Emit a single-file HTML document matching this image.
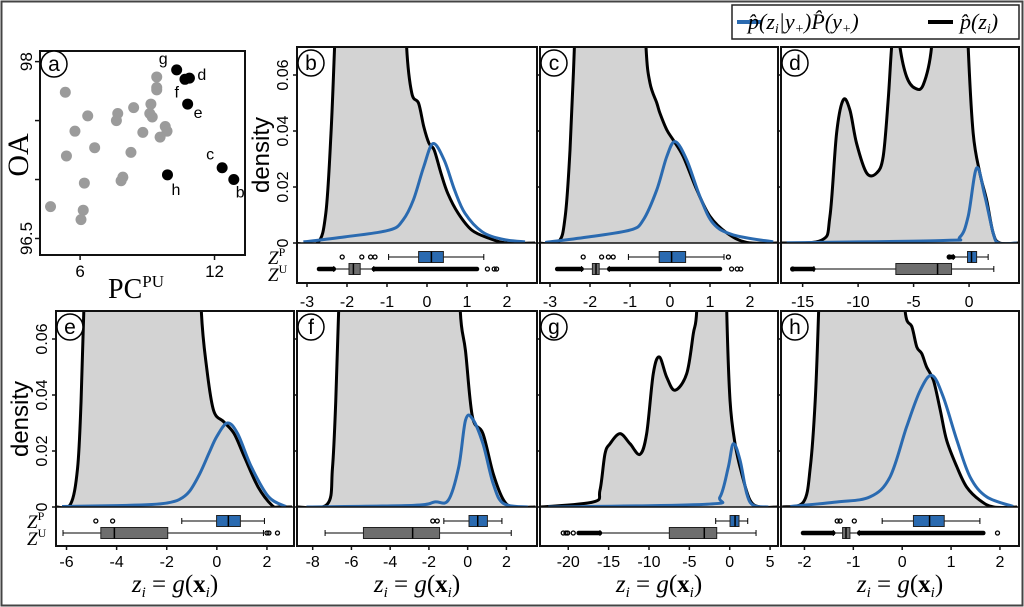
<!DOCTYPE html>
<html><head><meta charset="utf-8"><style>
html,body{margin:0;padding:0;background:#fff}
svg{display:block;font-family:"Liberation Sans",sans-serif}
</style></head><body>
<svg id="fig" width="1024" height="607" viewBox="0 0 1024 607" xmlns="http://www.w3.org/2000/svg">
<rect x="1.5" y="1.5" width="1021" height="604" fill="#fff" stroke="#444" stroke-width="2"/>
<g id="legend">
<rect x="732" y="5" width="287" height="34" fill="#fff" stroke="#222" stroke-width="1.5"/>
<line x1="737" y1="22" x2="762" y2="22" stroke="#2a6ab0" stroke-width="4"/>
<text x="748" y="29" font-family="'Liberation Serif',serif" font-style="italic" font-size="22">p̂(z<tspan font-size="14" dy="4">i</tspan><tspan dy="-4">|y</tspan><tspan font-size="14" dy="4">+</tspan><tspan dy="-4">)P̂(y</tspan><tspan font-size="14" dy="4">+</tspan><tspan dy="-4">)</tspan></text>
<line x1="928" y1="22" x2="953" y2="22" stroke="#000" stroke-width="4"/>
<text x="960" y="29" font-family="'Liberation Serif',serif" font-style="italic" font-size="22">p̂(z<tspan font-size="14" dy="4">i</tspan><tspan dy="-4">)</tspan></text>
</g>
</svg>
<script>
// ---------- scatter panel (a) data ----------
const grayX = [5.34,9.42,9.42,9.42,8.39,9.16,9.11,9.22,7.68,7.62,6.34,5.77,9.8,9.88,9.57,8.8,6.65,5.39,8.27,7.91,7.83,6.19,4.68,6.14,6.04];
const grayY = [97.74,97.87,97.78,97.76,97.61,97.64,97.56,97.53,97.56,97.5,97.54,97.41,97.45,97.41,97.36,97.4,97.27,97.2,97.23,97.02,96.99,96.97,96.77,96.74,96.66];
const blackX = [10.31,10.68,10.88,10.8,12.34,12.86,9.9];
const blackY = [97.93,97.85,97.86,97.64,97.1,97.0,97.04];
const blackLabels = ['g','f','d','e','c','b','h'];
const scatterXTicks = [6,12];
const scatterYTicks = [96.5,97,97.5,98];
const scatterYTickLabels = ['96.5','','','98'];

// ---------- density panels data ----------
const densTicks = [0,0.02,0.04,0.06];
const densTickLabels = ['0','0.02','0.04','0.06'];

const bBlack = [[-3.3,0],[-2.74,0],[-2.53,0.0106],[-2.40,0.0392],[-2.31,0.0701],[-2.2,0.11],[-1.4,0.13],[-0.6,0.11],[-0.51,0.0701],[-0.38,0.0535],[-0.21,0.0499],[-0.08,0.0415],[0.05,0.0356],[0.18,0.0332],[0.35,0.0249],[0.52,0.0177],[0.78,0.0106],[1.12,0.0046],[1.55,0.0017],[1.98,0],[2.7,0]];
const bBlue = [[-3.09,0.0004],[-2.05,0.0022],[-0.94,0.0046],[-0.60,0.0082],[-0.34,0.0154],[-0.08,0.0273],[0.15,0.0355],[0.43,0.0296],[0.69,0.0189],[0.95,0.0106],[1.38,0.004],[1.90,0.0013],[2.45,0.0004]];
const cBlack = [[-3.3,0],[-2.79,0.0004],[-2.62,0.0095],[-2.5,0.0332],[-2.39,0.07],[-2.3,0.11],[-1.5,0.13],[-0.7,0.11],[-0.6,0.07],[-0.5,0.0571],[-0.33,0.05],[-0.25,0.0463],[-0.08,0.0404],[0.08,0.0368],[0.33,0.0309],[0.67,0.019],[1.0,0.0095],[1.42,0.0036],[1.92,0.0002],[2.7,0]];
const cBlue = [[-3.12,0.0002],[-2.08,0.0021],[-1.0,0.0046],[-0.67,0.0082],[-0.33,0.019],[-0.08,0.0309],[0.13,0.0362],[0.42,0.0296],[0.75,0.0165],[1.08,0.007],[1.58,0.0029],[2.58,0.0004]];
const dBlack = [[-17,0],[-13.29,0.001],[-12.54,0.0095],[-11.94,0.0392],[-11.34,0.0511],[-10.74,0.0475],[-10.14,0.0356],[-9.23,0.025],[-8.33,0.025],[-7.74,0.0309],[-7.29,0.0511],[-6.98,0.07],[-6.6,0.085],[-6.23,0.07],[-5.63,0.0594],[-4.88,0.0553],[-4.13,0.0565],[-3.38,0.07],[-3.0,0.1],[-1.5,0.12],[-0.3,0.1],[-0.08,0.07],[0.37,0.0392],[0.97,0.025],[1.58,0.0154],[2.17,0.0036],[2.77,0],[4.5,0]];
const dBlue = [[-16.44,0.0001],[-2.33,0.0009],[-0.83,0.0021],[-0.08,0.0095],[0.68,0.0268],[1.42,0.0168],[2.17,0.0036],[2.68,0],[4.3,0]];
const eBlack = [[-6.4,0],[-5.84,0.001],[-5.56,0.0138],[-5.42,0.0376],[-5.31,0.07],[-5.2,0.11],[-3,0.13],[-0.75,0.11],[-0.62,0.07],[-0.41,0.05],[-0.13,0.0345],[0.28,0.0304],[0.69,0.0262],[1.10,0.0179],[1.65,0.0071],[2.2,0.0006],[2.47,0],[3.0,0]];
const eBlue = [[-6.18,0.0002],[-4.0,0.0005],[-2.6,0.0009],[-2.0,0.0014],[-1.51,0.0026],[-1.1,0.0055],[-0.68,0.0119],[-0.3,0.0195],[0,0.0252],[0.42,0.03],[0.83,0.0262],[1.38,0.0143],[2.07,0.0036],[2.75,0.0002]];
const fBlack = [[-8.8,0],[-7.25,0.001],[-6.98,0.0138],[-6.81,0.0376],[-6.66,0.07],[-6.5,0.11],[-3.5,0.13],[-0.5,0.11],[-0.38,0.07],[-0.11,0.0557],[0.25,0.0321],[0.79,0.0262],[1.32,0.0119],[1.86,0.0024],[2.39,0],[3.5,0]];
const fBlue = [[-8.32,0],[-2.79,0.0006],[-1.71,0.0018],[-1.0,0.0024],[-0.46,0.0143],[-0.11,0.031],[0.25,0.0315],[0.79,0.0226],[1.32,0.0083],[1.86,0.0012],[3.11,0]];
const gBlack = [[-23.4,0],[-16.9,0.0018],[-16.07,0.006],[-15.45,0.019],[-14.83,0.0226],[-13.59,0.0262],[-12.35,0.0226],[-11.12,0.0188],[-10.29,0.0262],[-9.47,0.0476],[-8.72,0.0536],[-7.81,0.0464],[-6.78,0.0417],[-5.33,0.0476],[-4.51,0.0619],[-4.09,0.07],[-3.8,0.1],[-2,0.12],[-0.5,0.1],[-0.37,0.07],[0.04,0.038],[0.66,0.0226],[1.49,0.0119],[2.52,0.0024],[3.76,0],[5.9,0]];
const gBlue = [[-22.48,0],[-2.85,0.001],[-1.2,0.0036],[-0.17,0.0143],[0.45,0.0226],[1.28,0.0167],[2.11,0.0048],[2.93,0.0006],[4.78,0]];
const hBlack = [[-2.45,0],[-2.02,0.0018],[-1.88,0.0143],[-1.78,0.038],[-1.71,0.07],[-1.65,0.11],[-0.8,0.13],[-0.02,0.1],[0.06,0.07],[0.2,0.0643],[0.3,0.0571],[0.4,0.0548],[0.5,0.05],[0.64,0.0452],[0.78,0.0345],[0.91,0.0238],[1.12,0.0143],[1.32,0.0071],[1.59,0.0024],[1.87,0],[2.35,0]];
const hBlue = [[-2.29,0.0002],[-1.34,0.0018],[-0.66,0.0036],[-0.25,0.0107],[0.09,0.0286],[0.37,0.0417],[0.61,0.047],[0.84,0.0393],[1.12,0.0238],[1.39,0.0107],[1.73,0.0036],[2.27,0.0002]];

// boxplots: [whiskerLo, q1, median, q3, whiskerHi]
const bBoxP = [-0.96,-0.21,0.11,0.41,1.42], bOutP = [-2.12,-1.63,-1.41,-1.30], bDenseP = [];
const bBoxU = [-2.33,-1.95,-1.84,-1.67,-1.33], bOutU = [1.51,1.68,1.74], bDenseU = [[-2.7,-2.33],[-1.33,1.25]];
const cBoxP = [-1.04,-0.27,0.04,0.39,1.35], cOutP = [-2.17,-1.71,-1.54,-1.42,1.46], cDenseP = [];
const cBoxU = [-2.21,-1.94,-1.85,-1.77,-1.52], cOutU = [1.54,1.68,1.77], cDenseU = [[-2.82,-2.21],[-1.52,1.25]];
const dBoxP = [-1.43,-0.14,0.22,0.68,1.72], dOutP = [-1.79], dDenseP = [[-1.79,-1.43]];
const dBoxU = [-13.98,-6.6,-2.84,-1.58,2.23], dOutU = [-15.9], dDenseU = [[-15.9,-14.04]];
const eBoxP = [-1.4,-0.01,0.46,0.94,1.9], eOutP = [-4.83,-4.16], eDenseP = [];
const eBoxU = [-6.14,-4.63,-4.09,-1.96,1.86], eOutU = [2.0,2.08,2.42], eDenseU = [];
const fBoxP = [-1.23,0.07,0.52,1.02,1.77], fOutP = [-1.8,-1.57], fDenseP = [];
const fBoxU = [-7.36,-5.38,-2.84,-1.45,2.25], fOutU = [], fDenseU = [];
const gBoxP = [-1.74,0.04,0.66,1.15,2.23], gOutP = [], gDenseP = [];
const gBoxU = [-16.07,-7.48,-3.15,-1.61,3.26], gOutU = [-20.62,-20.28,-20.07,-19.38], gDenseU = [[-18.71,-16.07]];
const hBoxP = [-0.41,0.23,0.56,0.86,1.59], hOutP = [-1.33,-1.27,-0.98], hDenseP = [];
const hBoxU = [-1.41,-1.22,-1.15,-1.07,-0.88], hOutU = [1.95], hDenseU = [[-2.03,-1.41],[-0.88,1.66]];

const bTicks = [-3,-2,-1,0,1,2], cTicks = [-3,-2,-1,0,1,2], dTicks = [-15,-10,-5,0];
const eTicks = [-6,-4,-2,0,2], fTicks = [-8,-6,-4,-2,0,2], gTicks = [-20,-15,-10,-5,0,5], hTicks = [-2,-1,0,1,2];

const NS = 'http://www.w3.org/2000/svg';
const svg = document.getElementById('fig');
const BLUE = '#2a6ab0';
function mk(tag, attrs, parent) {
  const e = document.createElementNS(NS, tag);
  for (const k in attrs) e.setAttribute(k, attrs[k]);
  (parent || svg).appendChild(e);
  return e;
}
function smoothPath(pts) {
  let d = 'M' + pts[0][0].toFixed(2) + ',' + pts[0][1].toFixed(2);
  for (let i = 0; i < pts.length - 1; i++) {
    const p0 = pts[Math.max(0, i - 1)], p1 = pts[i], p2 = pts[i + 1], p3 = pts[Math.min(pts.length - 1, i + 2)];
    const c1 = [p1[0] + (p2[0] - p0[0]) / 6, p1[1] + (p2[1] - p0[1]) / 6];
    const c2 = [p2[0] - (p3[0] - p1[0]) / 6, p2[1] - (p3[1] - p1[1]) / 6];
    d += 'C' + c1[0].toFixed(2) + ',' + c1[1].toFixed(2) + ' ' + c2[0].toFixed(2) + ',' + c2[1].toFixed(2) + ' ' + p2[0].toFixed(2) + ',' + p2[1].toFixed(2);
  }
  return d;
}
function labelCircle(cx, cy, letter, g) {
  const c = mk('circle', {cx: cx, cy: cy, r: 13, fill: '#fff', stroke: '#000', 'stroke-width': 1.5}, g);
  
  
  const t = mk('text', {x: cx, y: cy + 7, 'text-anchor': 'middle', 'font-size': 21}, g);
  t.textContent = letter;
  
  
}

// ---------- scatter panel a ----------
(function () {
  const L = 40, R = 245, T = 51, B = 255, xd = [4.21, 13.36], yd = [96.36, 98.09];
  const sx = v => L + (v - xd[0]) / (xd[1] - xd[0]) * (R - L);
  const sy = v => B - (v - yd[0]) / (yd[1] - yd[0]) * (B - T);
  const g = mk('g', {});
  
  
  const fr = mk('rect', {x: L, y: T, width: R - L, height: B - T, fill: 'none', stroke: '#111', 'stroke-width': 2}, g);
  
  
  scatterXTicks.forEach(v => {
    mk('line', {x1: sx(v), x2: sx(v), y1: B, y2: B + 5, stroke: '#111', 'stroke-width': 1.5}, g);
    const t = mk('text', {x: sx(v), y: B + 22, 'text-anchor': 'middle', 'font-size': 17}, g);
    t.textContent = v;
    
    
  });
  scatterYTicks.forEach((v, i) => {
    mk('line', {x1: L - 5, x2: L, y1: sy(v), y2: sy(v), stroke: '#111', 'stroke-width': 1.5}, g);
    if (scatterYTickLabels[i]) {
      const t = mk('text', {x: 0, y: 0, 'text-anchor': 'middle', 'font-size': 17, transform: 'translate(' + (L - 8) + ',' + sy(v) + ') rotate(-90)'}, g);
      t.textContent = scatterYTickLabels[i];
      
      
    }
  });
  grayX.forEach((x, i) => {
    const c = mk('circle', {cx: sx(x), cy: sy(grayY[i]), r: 5.5, fill: '#9b9b9b'}, g);
    
    
  });
  const offs = {g: [-9, -6, 'end'], f: [-6, 18, 'end'], d: [8, 2, 'start'], e: [6, 14, 'start'], c: [-8, -8, 'end'], b: [2, 18, 'start'], h: [4, 20, 'start']};
  blackX.forEach((x, i) => {
    const c = mk('circle', {cx: sx(x), cy: sy(blackY[i]), r: 5.5, fill: '#000'}, g);
    
    
    const o = offs[blackLabels[i]];
    const t = mk('text', {x: sx(x) + o[0], y: sy(blackY[i]) + o[1], 'text-anchor': o[2], 'font-size': 16}, g);
    t.textContent = blackLabels[i];
    
    
  });
  labelCircle(54, 64, 'a', g);
  const yt = mk('text', {x: 0, y: 0, 'text-anchor': 'middle', 'font-size': 30, 'font-family': "'Liberation Serif',serif", transform: 'translate(28,155) rotate(-90)'}, g);
  yt.textContent = 'OA';
  
  
  const xt = mk('text', {x: 108, y: 298, 'font-size': 28, 'font-family': "'Liberation Serif',serif"}, g);
  xt.innerHTML = 'PC<tspan font-size="17" dy="-11">PU</tspan>';
  
  
})();

// ---------- density panels ----------
const ROWS = {
  top: {T: 47, Z: 243, B: 283, py: 257, uy: 269, tly: 307},
  bot: {T: 311, Z: 507, B: 546, py: 521, uy: 533, tly: 567}
};
const panels = [
  {id: 'b', L: 297, R: 537, row: 'top', dom: [-3.25, 2.75], ticks: bTicks, black: bBlack, blue: bBlue, bp: bBoxP, op: bOutP, dp: bDenseP, bu: bBoxU, ou: bOutU, du: bDenseU, yl: true},
  {id: 'c', L: 540, R: 778, row: 'top', dom: [-3.25, 2.7], ticks: cTicks, black: cBlack, blue: cBlue, bp: cBoxP, op: cOutP, dp: cDenseP, bu: cBoxU, ou: cOutU, du: cDenseU},
  {id: 'd', L: 781, R: 1019, row: 'top', dom: [-16.95, 4.5], ticks: dTicks, black: dBlack, blue: dBlue, bp: dBoxP, op: dOutP, dp: dDenseP, bu: dBoxU, ou: dOutU, du: dDenseU},
  {id: 'e', L: 56, R: 294, row: 'bot', dom: [-6.42, 3.08], ticks: eTicks, black: eBlack, blue: eBlue, bp: eBoxP, op: eOutP, dp: eDenseP, bu: eBoxU, ou: eOutU, du: eDenseU, yl: true, xl: true},
  {id: 'f', L: 297, R: 537, row: 'bot', dom: [-8.81, 3.58], ticks: fTicks, black: fBlack, blue: fBlue, bp: fBoxP, op: fOutP, dp: fDenseP, bu: fBoxU, ou: fOutU, du: fDenseU, xl: true},
  {id: 'g', L: 540, R: 778, row: 'bot', dom: [-23.5, 5.98], ticks: gTicks, black: gBlack, blue: gBlue, bp: gBoxP, op: gOutP, dp: gDenseP, bu: gBoxU, ou: gOutU, du: gDenseU, xl: true},
  {id: 'h', L: 781, R: 1019, row: 'bot', dom: [-2.48, 2.39], ticks: hTicks, black: hBlack, blue: hBlue, bp: hBoxP, op: hOutP, dp: hDenseP, bu: hBoxU, ou: hOutU, du: hDenseU, xl: true}
];
const defs = mk('defs', {});
panels.forEach(p => {
  const r = ROWS[p.row];
  const sx = v => p.L + (v - p.dom[0]) / (p.dom[1] - p.dom[0]) * (p.R - p.L);
  const sy = v => r.Z - v * 2800;
  const g = mk('g', {});
  
  
  const cp = mk('clipPath', {id: 'clip-' + p.id}, defs);
  mk('rect', {x: p.L, y: r.T, width: p.R - p.L, height: r.Z - r.T}, cp);
  const cg = mk('g', {'clip-path': 'url(#clip-' + p.id + ')'}, g);
  const bpts = p.black.map(q => [sx(q[0]), sy(q[1])]);
  const d = smoothPath(bpts);
  const fill = mk('path', {d: d + 'L' + bpts[bpts.length - 1][0] + ',' + r.Z + 'L' + bpts[0][0] + ',' + r.Z + 'Z', fill: '#d3d3d3', stroke: 'none'}, cg);
  
  
  const bl = mk('path', {d: d, fill: 'none', stroke: '#000', 'stroke-width': 3, 'stroke-linejoin': 'round'}, cg);
  
  
  const bu = mk('path', {d: smoothPath(p.blue.map(q => [sx(q[0]), sy(q[1])])), fill: 'none', stroke: BLUE, 'stroke-width': 3, 'stroke-linejoin': 'round'}, cg);
  
  
  const fr = mk('rect', {x: p.L, y: r.T, width: p.R - p.L, height: r.B - r.T, fill: 'none', stroke: '#111', 'stroke-width': 2}, g);
  
  
  mk('line', {x1: p.L, x2: p.R, y1: r.Z, y2: r.Z, stroke: '#111', 'stroke-width': 1.5}, g);
  densTicks.forEach((v, i) => {
    mk('line', {x1: p.L - 4, x2: p.L, y1: sy(v), y2: sy(v), stroke: '#111', 'stroke-width': 1.5}, g);
    if (p.yl) {
      const t = mk('text', {x: 0, y: 0, 'text-anchor': 'middle', 'font-size': 16, transform: 'translate(' + (p.L - 9) + ',' + sy(v) + ') rotate(-90)'}, g);
      t.textContent = densTickLabels[i];
      
      
    }
  });
  if (p.yl) {
    const t = mk('text', {x: 0, y: 0, 'text-anchor': 'middle', 'font-size': 24, transform: 'translate(' + (p.L - 28) + ',' + ((r.T + r.Z) / 2 + 10) + ') rotate(-90)'}, g);
    t.textContent = 'density';
    
    
    const zp = mk('text', {x: p.L - 29, y: r.py + 7, 'font-size': 19, 'font-style': 'italic', 'font-family': "'Liberation Serif',serif"}, g);
    zp.innerHTML = 'Z<tspan font-size="12" dy="-8" font-style="normal">P</tspan>';
    
    
    const zu = mk('text', {x: p.L - 29, y: r.uy + 12, 'font-size': 19, 'font-style': 'italic', 'font-family': "'Liberation Serif',serif"}, g);
    zu.innerHTML = 'Z<tspan font-size="12" dy="-8" font-style="normal">U</tspan>';
    
    
  }
  p.ticks.forEach(v => {
    mk('line', {x1: sx(v), x2: sx(v), y1: r.B, y2: r.B + 4, stroke: '#111', 'stroke-width': 1.5}, g);
    const t = mk('text', {x: sx(v), y: r.tly, 'text-anchor': 'middle', 'font-size': 16}, g);
    t.textContent = v;
    
    
  });
  if (p.xl) {
    const t = mk('text', {x: (p.L + p.R) / 2, y: 592, 'text-anchor': 'middle', 'font-size': 25, 'font-family': "'Liberation Serif',serif"}, g);
    t.innerHTML = '<tspan font-style="italic">z</tspan><tspan font-size="15" dy="5" font-style="italic">i</tspan><tspan dy="-5"> = </tspan><tspan font-style="italic">g</tspan>(<tspan font-weight="bold">x</tspan><tspan font-size="15" dy="5" font-style="italic">i</tspan><tspan dy="-5">)</tspan>';
    
    
  }
  function box(stats, outs, dense, y, color, name) {
    const bg = mk('g', {}, g);
    
    
    mk('line', {x1: sx(stats[0]), x2: sx(stats[4]), y1: y, y2: y, stroke: '#000', 'stroke-width': 1}, bg);
    mk('line', {x1: sx(stats[0]), x2: sx(stats[0]), y1: y - 3, y2: y + 3, stroke: '#000', 'stroke-width': 1}, bg);
    mk('line', {x1: sx(stats[4]), x2: sx(stats[4]), y1: y - 3, y2: y + 3, stroke: '#000', 'stroke-width': 1}, bg);
    mk('rect', {x: sx(stats[1]), y: y - 5.5, width: Math.max(1, sx(stats[3]) - sx(stats[1])), height: 11, fill: color, stroke: '#222', 'stroke-width': 1}, bg);
    mk('line', {x1: sx(stats[2]), x2: sx(stats[2]), y1: y - 5.5, y2: y + 5.5, stroke: '#000', 'stroke-width': 1.5}, bg);
    dense.forEach(dr => {
      mk('line', {x1: sx(dr[0]), x2: sx(dr[1]), y1: y, y2: y, stroke: '#000', 'stroke-width': 4.5, 'stroke-linecap': 'round'}, bg);
    });
    outs.forEach(o => {
      mk('circle', {cx: sx(o), cy: y, r: 2, fill: 'none', stroke: '#000', 'stroke-width': 1.3}, bg);
    });
  }
  box(p.bp, p.op, p.dp, r.py, BLUE, 'boxplot-positive');
  box(p.bu, p.ou, p.du, r.uy, '#6e6e6e', 'boxplot-unlabeled');
  labelCircle(p.L + 14, r.T + 16, p.id, g);
});
</script>
</body></html>
